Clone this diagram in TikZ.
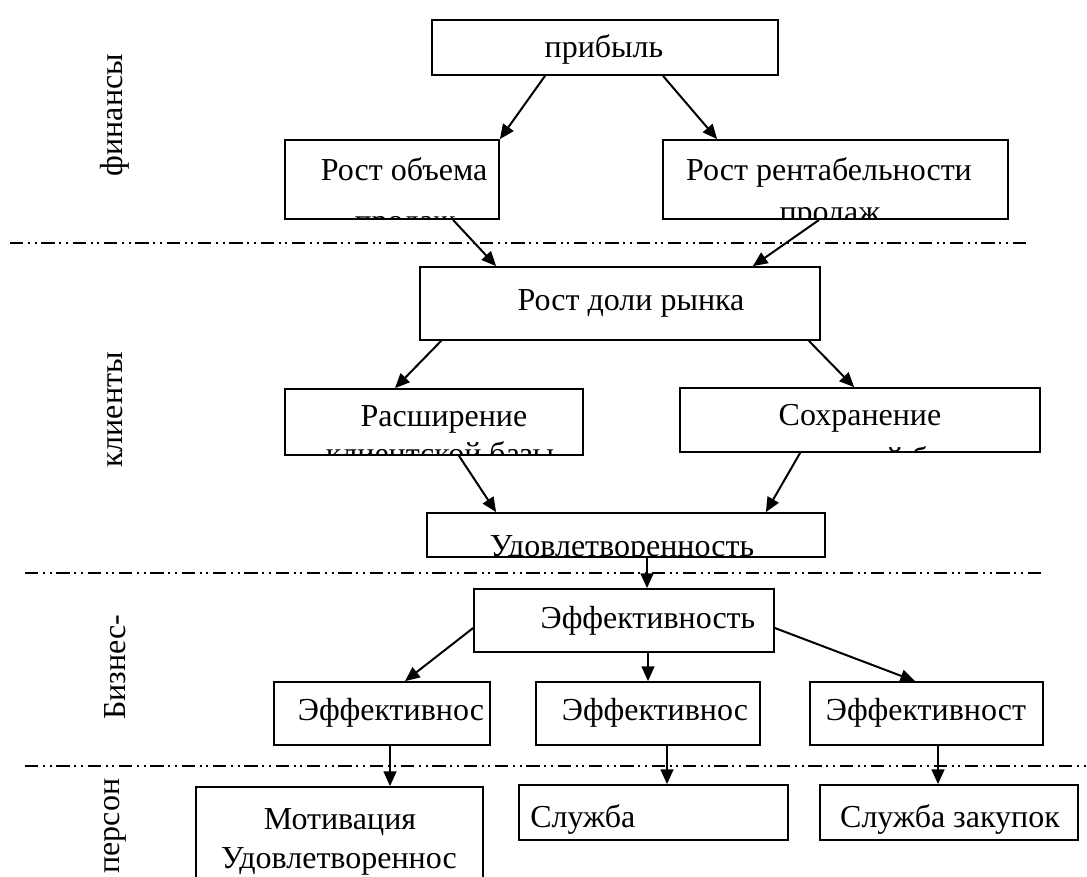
\documentclass[tikz,border=0pt]{standalone}
\usepackage{fontspec}
\setmainfont{Liberation Serif}
\usetikzlibrary{arrows.meta,calc}

\begin{document}
\begin{tikzpicture}[x=0.75pt, y=-0.75pt,
  >={Triangle[length=11pt,width=9.5pt]},
  font=\fontsize{24}{29}\selectfont,
  box/.style 2 args={draw=black, line width=1.3pt, fill=white, inner sep=0pt,
    minimum width=#1*0.75pt, minimum height=#2*0.75pt},
  txt/.style={inner sep=0pt, anchor=base},
  side/.style={inner sep=0pt, rotate=90},
  link/.style={->, line width=1.5pt, black},
  sep/.style={line width=1.6pt, black,
    dash pattern=on 10pt off 3.5pt on 1.5pt off 3.5pt on 1.5pt off 3.5pt},
]
\clip (0,0) rectangle (1087,876);
\useasboundingbox (0,0) rectangle (1087,876);

% ======================= level labels =======================
\node[side] (lfin) at (115,115) {финансы};
\node[side] (lcli) at (115,410) {клиенты};
\node[side] (lbus) at (115,667) {Бизнес-};
\node[side] (lper) at (115,826) {персон};

% ======================= separators =========================
\draw[sep] (10,243) -- (1030,243);
\draw[sep] (25,573) -- (1045,573);
\draw[sep] (25,766) -- (1087,766);

% ======================= finance ============================
\node[box={346}{55}] (prib) at (605,47.5) {};
\node[txt] (tprib) at (604,57) {прибыль};
\node[box={214}{79}] (vol) at (392,179.5) {};
\node[txt] (tvol) at (404,180) {Рост объема};
\node[box={345}{79}] (rent) at (835.5,179.5) {};
\node[txt] (trent) at (829,180) {Рост рентабельности};
\begin{scope}
  \clip (vol.south west) rectangle (vol.north east);
  \node[txt] (tvol2) at (405,231) {продаж};
\end{scope}
\begin{scope}
  \clip (rent.south west) rectangle (rent.north east);
  \node[txt] (trent2) at (830,222) {продаж};
\end{scope}

% ======================= clients ============================
\node[box={400}{73}] (share) at (620,303.5) {};
\node[txt] (tshare) at (631,310) {Рост доли рынка};
\node[box={298}{66}] (expand) at (434,422) {};
\node[txt] (texpand) at (444,426) {Расширение};
\node[box={360}{64}] (keep) at (860,420) {};
\node[txt] (tkeep) at (860,425) {Сохранение};
\node[box={398}{44}] (satis) at (626,535) {};
\begin{scope}
  \clip (expand.south west) rectangle (expand.north east);
  \node[txt] (texpand2) at (440,464) {клиентской базы};
\end{scope}
\begin{scope}
  \clip (keep.south west) rectangle (keep.north east);
  \node[txt] (tkeep2) at (862,469) {клиентской базы};
\end{scope}
\begin{scope}
  \clip (satis.south west) rectangle (satis.north east);
  \node[txt] (tsatis) at (622,556) {Удовлетворенность};
\end{scope}

% ======================= business processes =================
\node[box={300}{63}] (eff) at (624,620.5) {};
\node[txt] (teff) at (648,628) {Эффективность};
\node[box={216}{63}] (effA) at (382,713.5) {};
\node[txt] (teffA) at (391,720) {Эффективнос};
\node[box={224}{63}] (effB) at (648,713.5) {};
\node[txt] (teffB) at (655,720) {Эффективнос};
\node[box={233}{63}] (effC) at (926.5,713.5) {};
\node[txt] (teffC) at (926,720) {Эффективност};

% ======================= personnel ==========================
\node[box={287}{130}] (motiv) at (339.5,852) {};
\node[txt] (tmotiv) at (340,829) {Мотивация};
\node[txt] (tmotiv2) at (339,868) {Удовлетвореннос};
\node[box={269}{55}] (serv) at (653.5,812.5) {};
\node[txt, anchor=base west] (tserv) at (530,827) {Служба};
\node[box={258}{55}] (buy) at (949,812.5) {};
\node[txt] (tbuy) at (950,827) {Служба закупок};

% ======================= links ==============================
\draw[link] ($(prib.south)+(-60,0)$) -- (vol.north east);
\draw[link] ($(prib.south)+(58,0)$) -- ($(rent.north west)+(55,0)$);
\draw[link] ($(vol.south)+(61,0)$) -- ($(share.north west)+(77,0)$);
\draw[link] ($(rent.south west)+(157,0)$) -- ($(share.north east)+(-68,0)$);
\draw[link] ($(share.south west)+(22,0)$) -- ($(expand.north)+(-39,0)$);
\draw[link] ($(share.south east)+(-12,0)$) -- ($(keep.north west)+(175,0)$);
\draw[link] ($(expand.south)+(25,0)$) -- ($(satis.north west)+(70,0)$);
\draw[link] ($(keep.south west)+(121,0)$) -- ($(satis.north east)+(-60,0)$);
\draw[link] ($(satis.south)+(21,0)$) -- ($(eff.north)+(23,0)$);
\draw[link] ($(eff.west)+(0,7.5)$) -- ($(effA.north)+(23,0)$);
\draw[link] ($(eff.south)+(24,0)$) -- (effB.north);
\draw[link] ($(eff.east)+(0,7.5)$) -- ($(effC.north)+(-11.5,0)$);
\draw[link] ($(effA.south)+(8,0)$) -- ($(motiv.north)+(50.5,0)$);
\draw[link] ($(effB.south)+(19,0)$) -- ($(serv.north)+(13.5,0)$);
\draw[link] ($(effC.south)+(11.5,0)$) -- ($(buy.north)+(-11,0)$);

\end{tikzpicture}
\end{document}
